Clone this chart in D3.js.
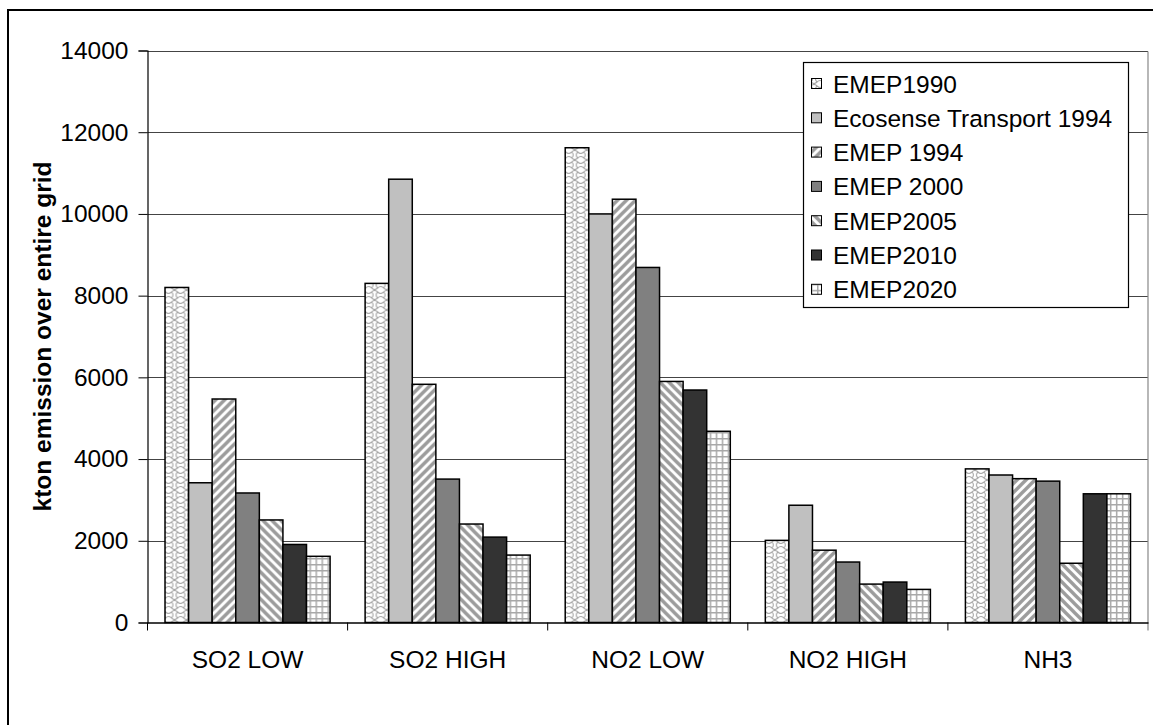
<!DOCTYPE html>
<html><head><meta charset="utf-8">
<script src="https://cdn.jsdelivr.net/npm/d3@7"></script>
<style>body{margin:0;background:#fff}svg{display:block;font-family:"Liberation Sans",Arial,sans-serif}</style>
</head><body><svg id="c" width="1153" height="725"></svg>
<script>
const categories = ["SO2 LOW","SO2 HIGH","NO2 LOW","NO2 HIGH","NH3"];
const seriesNames = ["EMEP1990","Ecosense Transport 1994","EMEP 1994","EMEP 2000","EMEP2005","EMEP2010","EMEP2020"];
const emep1990 = [8200, 8300, 11620, 2010, 3760];
const ecosense1994 = [3420, 10850, 10000, 2870, 3610];
const emep1994 = [5470, 5830, 10360, 1770, 3520];
const emep2000 = [3170, 3510, 8690, 1480, 3460];
const emep2005 = [2510, 2410, 5900, 940, 1450];
const emep2010 = [1910, 2090, 5690, 990, 3150];
const emep2020 = [1620, 1650, 4680, 810, 3150];
const yTicks = [0,2000,4000,6000,8000,10000,12000,14000];
const seriesValues = [emep1990, ecosense1994, emep1994, emep2000, emep2005, emep2010, emep2020];
const fills = ["url(#pWave)","#c0c0c0","url(#pUp)","#808080","url(#pDown)","#333333","url(#pGrid)"];

(function(){
const FS = 24.5;
const svg = d3.select("#c");
const defs = svg.append("defs");
const pw = defs.append("pattern").attr("id","pWave").attr("patternUnits","userSpaceOnUse").attr("width",12).attr("height",10);
pw.append("rect").attr("width",12).attr("height",10).attr("fill","#fff");
pw.append("path").attr("d","M0,2 C2,0 4,0 6,2 C8,4 10,4 12,2 M6,2 C4,4 4,6 6,8 M0,8 C2,10 4,10 6,8 C8,6 10,6 12,8 M0,8 C2,6 2,4 0,2 M12,8 C14,6 14,4 12,2")
  .attr("fill","none").attr("stroke","#a6a6a6").attr("stroke-width",1.1);
const pu = defs.append("pattern").attr("id","pUp").attr("patternUnits","userSpaceOnUse").attr("width",9).attr("height",9);
pu.append("rect").attr("width",9).attr("height",9).attr("fill","#fff");
pu.append("path").attr("d","M-2,2 L2,-2 M0,9 L9,0 M7,11 L11,7").attr("stroke","#9c9c9c").attr("stroke-width",3.4);
const pd = defs.append("pattern").attr("id","pDown").attr("patternUnits","userSpaceOnUse").attr("width",9).attr("height",9);
pd.append("rect").attr("width",9).attr("height",9).attr("fill","#fff");
pd.append("path").attr("d","M-2,7 L2,11 M0,0 L9,9 M7,-2 L11,2").attr("stroke","#9c9c9c").attr("stroke-width",3.4);
const pg = defs.append("pattern").attr("id","pGrid").attr("patternUnits","userSpaceOnUse").attr("width",6).attr("height",6);
pg.append("rect").attr("width",6).attr("height",6).attr("fill","#fff");
pg.append("path").attr("d","M0,0.75 H6 M0.75,0 V6").attr("stroke","#a8a8a8").attr("stroke-width",1.5);

svg.append("rect").attr("x",8).attr("y",10).attr("width",1200).attr("height",800).attr("fill","none").attr("stroke","#000").attr("stroke-width",2);

const pL = 147.5, pR = 1148, pT = 50.5, pB = 622.5;
const y = d3.scaleLinear().domain([0,14000]).range([pB, pT]);
const x0 = d3.scaleBand().domain(categories).range([pL, pR]).paddingInner(0).paddingOuter(0);
const bw = x0.bandwidth();
const x1 = d3.scaleBand().domain(seriesNames).range([bw*0.0875, bw*(1-0.0875)]);

svg.append("g").selectAll("line").data(yTicks.filter(d=>d>0)).join("line")
  .attr("x1",pL).attr("x2",pR).attr("y1",d=>Math.round(y(d))+0.5).attr("y2",d=>Math.round(y(d))+0.5)
  .attr("stroke","#444").attr("stroke-width",1);
svg.append("line").attr("x1",pR).attr("x2",pR).attr("y1",Math.round(pT)+0.5).attr("y2",pB+8).attr("stroke","#888").attr("stroke-width",1.2);

const groups = svg.append("g").selectAll("g").data(categories).join("g")
  .attr("transform",d=>`translate(${x0(d)},0)`);
groups.selectAll("rect").data((c,ci)=>seriesNames.map((s,si)=>({s,si,v:seriesValues[si][ci]}))).join("rect")
  .attr("x",d=>x1(d.s)).attr("width",x1.bandwidth())
  .attr("y",d=>y(d.v)).attr("height",d=>y(0)-y(d.v))
  .attr("fill",d=>fills[d.si]).attr("stroke","#000").attr("stroke-width",1.5);

const ya = svg.append("g").attr("transform",`translate(${pL},0)`)
  .call(d3.axisLeft(y).tickValues(yTicks).tickSize(9).tickPadding(10).tickFormat(d3.format("d")));
ya.select(".domain").attr("stroke","#000").attr("stroke-width",1.2);
ya.selectAll(".tick line").attr("stroke","#000");
ya.selectAll("text").attr("font-size",FS).attr("fill","#000").attr("font-family","Liberation Sans, Arial, sans-serif");

const xa = svg.append("g").attr("transform",`translate(0,${pB})`)
  .call(d3.axisBottom(x0).tickSize(0).tickPadding(28));
xa.select(".domain").attr("stroke","#000").attr("stroke-width",1.5);
xa.selectAll("text").attr("font-size",FS).attr("fill","#000").attr("font-family","Liberation Sans, Arial, sans-serif");
svg.append("g").selectAll("line").data(categories).join("line")
  .attr("x1",d=>x0(d)).attr("x2",d=>x0(d)).attr("y1",pB).attr("y2",pB+8)
  .attr("stroke","#000").attr("stroke-width",1);

svg.append("text").attr("transform",`translate(42,${(pT+pB)/2}) rotate(-90)`)
  .attr("text-anchor","middle").attr("dominant-baseline","central")
  .attr("font-size",FS).attr("font-weight","bold").text("kton emission over entire grid");

const lg = svg.append("g");
lg.append("rect").attr("x",803.5).attr("y",62.5).attr("width",325).attr("height",245).attr("fill","#fff").attr("stroke","#000").attr("stroke-width",1.2);
const li = lg.selectAll("g").data(seriesNames).join("g").attr("transform",(d,i)=>`translate(811,${84+i*34.3})`);
li.append("rect").attr("x",0.5).attr("y",-5.5).attr("width",10).attr("height",10).attr("fill",(d,i)=>fills[i]).attr("stroke","#000").attr("stroke-width",1);
li.append("text").attr("x",22).attr("y",0).attr("dominant-baseline","central").attr("font-size",FS).text(d=>d);
})();
</script></body></html>
